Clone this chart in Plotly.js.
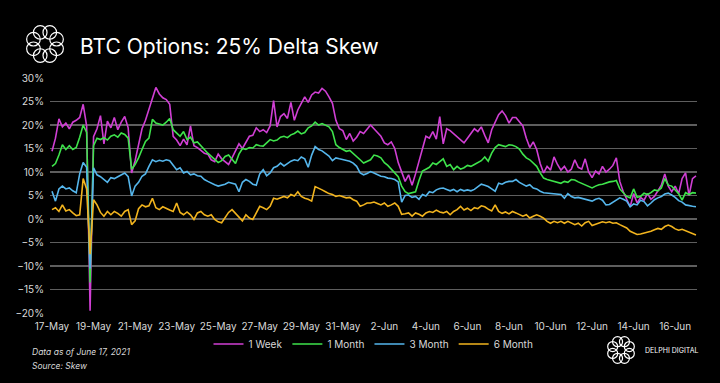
<!DOCTYPE html>
<html><head><meta charset="utf-8">
<script src="https://cdn.plot.ly/plotly-3.0.1.min.js"></script>
<style>html,body{margin:0;padding:0;background:#000;}#chart{width:720px;height:383px;}</style>
</head><body><div id="chart"></div>
<script>
// ---- data (4-hourly, starting 17-May-2021 00:00) ----
const seriesNames = ['1 Week', '1 Month', '3 Month', '6 Month'];
const stepHours = 4;
const week = [
14.4,17.2,21.3,19.6,20.4,19.2,20.6,21.0,21.6,24.4,19.8,-19.5,
17.5,19.2,22.0,16.0,20.8,19.4,21.6,19.0,20.6,21.8,19.4,9.8,
12.4,15.8,19.2,21.0,23.2,25.6,28.0,26.6,25.8,25.4,24.4,17.6,
16.8,15.6,17.0,15.8,19.8,15.6,15.2,14.6,14.0,13.8,12.6,12.2,
13.8,12.8,12.2,11.6,13.0,14.6,16.0,15.0,16.4,17.6,
17.8,19.4,18.6,19.0,18.4,19.8,25.2,19.6,21.8,22.4,21.4,24.8,
21.0,23.2,24.6,26.0,24.8,26.4,27.0,26.8,27.8,27.2,26.0,24.6,
21.0,19.2,18.8,16.9,18.2,16.6,17.4,18.6,18.2,19.0,20.0,19.2,
18.4,17.6,16.2,15.8,16.4,15.0,12.0,9.8,8.0,9.4,7.2,9.6,
12.2,15.2,17.6,17.2,18.6,17.0,21.8,16.0,19.2,18.8,18.2,17.6,
16.8,16.2,17.2,
18.2,19.2,18.6,19.6,17.8,16.2,19.0,20.6,22.2,23.0,22.0,20.4,
21.6,21.6,20.6,19.8,17.2,15.2,16.4,14.8,11.8,9.8,11.2,10.4,
13.2,11.6,10.4,11.2,10.0,10.6,12.6,11.0,10.6,12.8,10.0,8.8,
10.2,9.6,11.2,10.0,10.6,11.4,13.0,8.0,5.8,4.2,2.6,5.4,
3.4,4.6,4.0,5.4,4.2,4.8,6.0,7.2,9.6,7.0,5.8,7.0,
5.4,8.6,9.8,5.0,8.6,9.2
];
const month = [
11.2,11.8,13.6,15.8,14.8,15.6,14.8,15.2,17.4,20.0,18.4,-13.5,
15.6,17.2,16.9,17.3,16.8,17.6,17.9,17.4,18.3,18.0,17.2,10.6,
11.6,13.0,14.8,16.5,17.2,21.2,20.4,20.2,20.0,20.6,21.4,19.0,
18.2,17.6,18.6,16.9,17.4,16.2,16.4,15.5,14.8,14.0,13.4,12.6,
12.0,12.4,13.3,13.6,12.6,11.8,13.8,15.0,14.8,15.2,
15.1,15.8,15.6,15.5,16.2,16.9,16.6,16.8,17.4,17.6,17.3,17.9,
18.2,18.7,18.1,18.4,19.4,19.8,20.6,20.0,20.3,20.0,19.6,18.6,
15.8,15.2,14.8,14.4,14.6,14.0,13.3,12.6,11.9,12.2,12.6,13.6,
13.4,13.0,12.0,11.4,10.6,10.0,9.0,7.0,5.8,5.4,5.6,5.8,
8.2,10.2,10.6,11.0,11.9,11.6,12.2,12.8,11.2,11.6,10.5,11.2,
10.6,10.9,11.4,
11.2,11.6,12.0,12.4,13.2,12.3,14.0,15.2,15.8,15.6,15.4,15.8,
15.7,15.4,14.9,13.8,13.0,12.6,11.9,11.2,9.8,8.7,8.4,8.2,
8.0,7.8,7.6,8.0,7.8,8.4,8.3,7.9,7.6,7.3,7.0,6.6,
7.0,7.3,7.4,7.7,7.9,8.0,8.2,6.4,5.5,4.8,4.5,6.4,
4.6,4.8,5.5,5.2,5.6,6.2,6.0,6.6,8.6,7.2,7.0,6.2,
5.4,4.0,5.6,5.2,5.6,5.5
];
const threeMonth = [
5.9,3.8,6.4,7.0,6.4,6.6,6.0,5.6,9.6,12.0,11.0,-10.5,
10.9,9.4,9.0,8.4,7.8,8.8,8.6,9.0,9.4,9.8,9.0,4.9,
7.0,7.8,9.1,9.6,11.2,12.6,12.2,12.5,12.3,12.6,12.4,11.4,
10.5,10.9,9.8,10.1,9.4,9.6,9.2,9.1,8.4,8.0,7.6,7.3,
7.0,7.2,7.4,7.8,7.6,7.4,5.8,7.8,8.4,8.0,
7.4,7.2,9.6,10.5,9.2,9.8,10.9,11.2,11.9,11.3,11.8,12.3,
12.6,12.4,13.2,12.8,11.0,13.6,15.4,14.8,14.5,14.0,13.4,12.4,
13.0,12.8,12.6,12.4,12.3,11.9,11.2,9.8,9.4,9.7,10.1,9.8,
9.4,9.1,9.0,8.7,8.6,8.4,7.9,3.6,5.0,5.1,4.6,4.8,
4.2,5.2,4.9,5.8,5.6,6.2,6.5,6.6,6.3,6.0,6.3,5.8,
6.3,6.0,6.2,
6.0,6.3,6.8,7.4,7.2,6.9,6.4,5.9,7.6,7.4,7.8,8.0,
8.0,8.4,7.8,7.4,7.0,7.3,6.6,6.4,5.9,5.6,5.5,5.5,
5.4,5.3,5.2,4.4,5.4,4.8,4.5,4.6,4.4,4.2,4.0,3.8,
4.2,4.4,4.0,3.0,3.1,3.6,4.1,4.5,4.2,3.8,2.6,3.2,
3.0,4.0,3.7,2.8,3.4,4.1,4.5,4.8,5.3,5.5,5.1,4.6,
3.9,3.6,3.0,2.8,2.7,2.6
];
const sixMonth = [
2.0,2.4,1.6,3.0,1.7,2.0,1.3,0.7,0.9,8.6,6.4,-7.5,
4.1,3.0,1.4,0.6,1.6,0.9,1.6,1.2,0.6,1.6,2.0,-1.2,
-0.4,2.2,3.0,2.6,2.8,4.4,2.4,2.0,2.6,2.2,1.9,1.6,
3.4,1.4,0.9,1.5,0.9,-0.1,1.3,1.6,0.9,0.6,0.9,-0.1,
-0.6,-0.8,0.2,1.4,2.0,1.2,0.6,-0.4,0.9,0.2,
-0.1,1.3,2.7,2.4,2.0,2.7,4.4,4.2,4.5,4.8,4.5,5.2,
4.9,5.8,4.8,4.4,4.2,3.8,6.9,6.6,6.2,5.8,5.4,5.2,
4.8,5.0,4.8,4.5,4.6,4.1,3.8,2.7,3.0,3.4,3.4,3.6,
3.3,3.0,3.4,2.7,3.0,3.4,2.7,1.0,1.1,1.3,0.6,1.3,
1.0,0.6,1.3,1.6,1.4,1.9,1.5,1.3,1.6,0.9,1.6,2.0,
2.7,1.9,2.3,
1.8,2.4,2.2,2.8,2.6,2.1,1.7,3.0,1.6,1.2,1.5,1.1,
1.6,1.3,1.0,0.6,0.9,0.2,0.6,0.9,0.6,0.2,-0.5,-0.9,
-0.5,-0.8,-0.5,-0.9,-0.5,-0.8,-1.2,-0.9,-1.5,-0.8,-0.5,-1.4,
-1.1,-0.8,-0.6,-0.8,-0.6,-0.9,-0.8,-1.2,-1.5,-1.9,-2.6,-3.0,
-3.3,-3.2,-3.0,-2.9,-2.6,-2.3,-2.0,-2.2,-1.6,-1.3,-1.6,-2.1,
-2.4,-2.2,-2.5,-2.9,-3.2,-3.4
];
const colors = ['#d03fd4', '#3ee34b', '#55b6ec', '#f2b41e'];

// ---- build ----
const t0 = Date.UTC(2021, 4, 17, 0, 0, 0);
function xs(n) {
  const out = [];
  for (let k = 0; k < n; k++) {
    out.push(new Date(t0 + k * stepHours * 3600000).toISOString().replace('T', ' ').slice(0, 19));
  }
  return out;
}
const allSeries = [week, month, threeMonth, sixMonth];
const traces = allSeries.map((vals, i) => ({
  type: 'scatter', mode: 'lines', name: seriesNames[i],
  x: xs(vals.length), y: vals,
  line: {color: colors[i], width: 1.6},
  hoverinfo: 'skip'
}));

// pixel -> paper helpers for decorations (plot area 50..697 x 78..313)
const L = 50, R = 697, T = 78, B = 313;
const px = p => (p - L) / (R - L);
const py = p => (B - p) / (B - T);
function logo(cx, cy, ringR, loopR) {
  const s = [];
  for (let i = 0; i < 8; i++) {
    const a = i * Math.PI / 4 + Math.PI / 8;
    const x = cx + ringR * Math.cos(a), y = cy + ringR * Math.sin(a);
    s.push({type: 'circle', xref: 'paper', yref: 'paper',
      x0: px(x - loopR), x1: px(x + loopR), y0: py(y + loopR), y1: py(y - loopR),
      line: {color: '#ffffff', width: 1.2}, fillcolor: 'rgba(0,0,0,0)'});
  }
  return s;
}
const shapes = [].concat(logo(45, 44, 12.5, 6.8), logo(621, 350, 9, 5));

const font = 'Inter, "Open Sans", sans-serif';
const layout = {
  width: 720, height: 383,
  paper_bgcolor: '#000', plot_bgcolor: '#000',
  margin: {l: L, r: 720 - R, t: T, b: 383 - B},
  font: {family: font, color: '#d8d8d8', size: 10},
  title: {text: 'BTC Options: 25% Delta Skew', xref: 'container', yref: 'container',
    x: 80 / 720, xanchor: 'left', y: 1 - 47 / 383, yanchor: 'middle',
    font: {family: font, size: 21, color: '#ffffff'}},
  xaxis: {type: 'date', range: ['2021-05-16 21:41', '2021-06-17 01:12'],
    tick0: '2021-05-17', dtick: 2 * 86400000, tickformat: '%-d-%b',
    showgrid: false, zeroline: false, showline: false,
    ticks: 'outside', ticklen: 4, tickcolor: 'rgba(0,0,0,0)',
    tickfont: {size: 10, color: '#d8d8d8'}},
  yaxis: {range: [-20, 30], dtick: 5, ticksuffix: '%',
    showgrid: true, gridcolor: '#5e5e5e', gridwidth: 1.2,
    zeroline: true, zerolinecolor: '#5e5e5e', zerolinewidth: 1.2, showline: false,
    ticks: 'outside', ticklen: 3, tickcolor: 'rgba(0,0,0,0)',
    tickfont: {size: 10, color: '#d8d8d8'}},
  showlegend: true,
  legend: {orientation: 'h', x: 0.5, xanchor: 'center', y: py(344), yanchor: 'middle',
    font: {size: 10, color: '#d8d8d8'}, bgcolor: 'rgba(0,0,0,0)', itemwidth: 30},
  shapes: shapes,
  annotations: [
    {xref: 'paper', yref: 'paper', x: px(30), y: py(352), xanchor: 'left', yanchor: 'middle',
      text: '<i>Data as of June 17, 2021</i>', showarrow: false, font: {size: 8.5, color: '#d8d8d8'}},
    {xref: 'paper', yref: 'paper', x: px(30), y: py(366), xanchor: 'left', yanchor: 'middle',
      text: '<i>Source: Skew</i>', showarrow: false, font: {size: 8.5, color: '#d8d8d8'}},
    {xref: 'paper', yref: 'paper', x: px(643), y: py(350), xanchor: 'left', yanchor: 'middle',
      text: 'DELPHI DIGITAL', showarrow: false, font: {size: 7, color: '#ffffff'}}
  ]
};
Plotly.newPlot('chart', traces, layout, {displayModeBar: false, staticPlot: true});
</script></body></html>
